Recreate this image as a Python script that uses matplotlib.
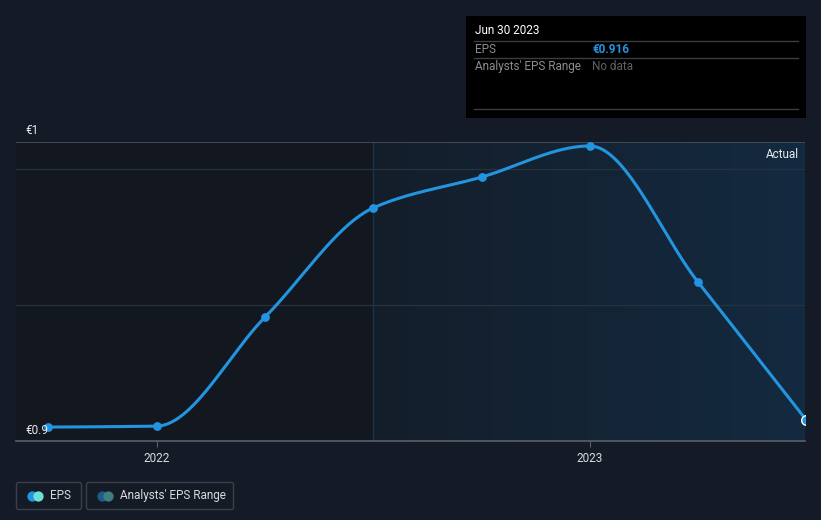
import matplotlib
matplotlib.use("Agg")
import matplotlib.pyplot as plt
import numpy as np
from matplotlib.colors import LinearSegmentedColormap
from matplotlib.patches import FancyBboxPatch

plt.rcParams["font.family"] = ["Roboto", "DejaVu Sans"]

# EPS history (quarter ends, decimal years) and values in EUR
quarters = ["Sep 2021", "Dec 2021", "Mar 2022", "Jun 2022",
            "Sep 2022", "Dec 2022", "Mar 2023", "Jun 2023"]
q_years = [2021.75, 2022.0, 2022.25, 2022.5, 2022.75, 2023.0, 2023.25, 2023.5]
eps = [0.9139, 0.9142, 0.9471, 0.9801, 0.9894, 0.9988, 0.9577, 0.916]

year_ticks = [2022, 2023]
year_labels = ["2022", "2023"]
forecast_start = 2022.5

BG = "#151b26"
LINE = "#2394df"


def monotone_curve(x, y, n=40):
    # monotone cubic (Fritsch-Carlson), like d3's curveMonotoneX
    x = np.asarray(x, float)
    y = np.asarray(y, float)
    h = np.diff(x)
    d = np.diff(y) / h
    m = np.zeros_like(y)
    m[0], m[-1] = d[0], d[-1]
    for i in range(1, len(y) - 1):
        if d[i - 1] * d[i] <= 0:
            m[i] = 0
        else:
            m[i] = (3 * (h[i - 1] + h[i])) / ((2 * h[i] + h[i - 1]) / d[i - 1] + (h[i] + 2 * h[i - 1]) / d[i])
    xs, ys = [], []
    for i in range(len(h)):
        t = np.linspace(0, 1, n)
        h00 = 2 * t**3 - 3 * t**2 + 1
        h10 = t**3 - 2 * t**2 + t
        h01 = -2 * t**3 + 3 * t**2
        h11 = t**3 - t**2
        xs.append(x[i] + t * h[i])
        ys.append(h00 * y[i] + h10 * h[i] * m[i] + h01 * y[i + 1] + h11 * h[i] * m[i + 1])
    return np.concatenate(xs), np.concatenate(ys)


fig = plt.figure(figsize=(8.21, 5.2), dpi=100, facecolor=BG)
ax = fig.add_axes([16 / 821, 79 / 520, 789 / 821, 299 / 520])
ax.set_facecolor("#131820")

x0, x1 = 2021.675, 2023.497
y0, y1 = 0.9097, 1.0
ax.set_xlim(x0, x1)
ax.set_ylim(y0, y1)

# shaded "actual" region after the divider, gradient to the right
grad = LinearSegmentedColormap.from_list("g", ["#141e2a", "#132a40"])
ax.imshow(np.linspace(0, 1, 256).reshape(1, -1), cmap=grad, aspect="auto",
          extent=[forecast_start, x1, y0, y1], zorder=0, interpolation="bilinear")
ax.axvline(forecast_start, color="#1c3249", lw=1, zorder=1)

for gy in [0.9918, 0.9508]:
    ax.axhline(gy, color="#273240", lw=0.9, zorder=1)
ax.axhline(y1, color="#4a5260", lw=1.2, zorder=1)

cx, cy = monotone_curve(q_years, eps)
ax.plot(cx, cy, color=LINE, lw=2.2, zorder=3, solid_capstyle="round")
ax.scatter(q_years[:-1], eps[:-1], s=40, color=LINE, zorder=4, lw=0)
ax.scatter(q_years[-1:], eps[-1:], s=48, color=LINE, edgecolor="white", lw=1, zorder=4)

for s in ["top", "left", "right"]:
    ax.spines[s].set_visible(False)
ax.spines["bottom"].set_color("#5a606a")
ax.spines["bottom"].set_linewidth(1.2)
ax.set_yticks([])
ax.set_xticks(year_ticks)
ax.set_xticklabels(year_labels, color="#d8dadd", fontsize=8.5)
ax.tick_params(axis="x", length=4, color="#5a606a", pad=4)

ax.text(0.993, 0.958, "Actual", transform=ax.transAxes, ha="right", va="center",
        color="#e8eaec", fontsize=8.5)

fig.text(25 / 821, 1 - 130 / 520, "€1", color="#e8eaec", fontsize=8.5, va="center")
fig.text(25 / 821, 1 - 430 / 520, "€0.9", color="#e8eaec", fontsize=8.5, va="center")

# tooltip box
tip = fig.add_axes([466 / 821, 1 - 118 / 520, 340 / 821, 102 / 520])
tip.set_xlim(466, 806)
tip.set_ylim(118, 16)
tip.set_facecolor("black")
tip.set_xticks([])
tip.set_yticks([])
for s in tip.spines.values():
    s.set_visible(False)
for ly in [41, 58, 109]:
    tip.plot([474, 798], [ly, ly], color="#3a3d42", lw=1)
tip.text(475, 31, "Jun 30 2023", color="white", fontsize=8.5, va="center")
tip.text(475, 49.5, "EPS", color="#8a8d92", fontsize=8.5, va="center")
tip.text(592, 49.5, "€0.916", color="#2394df", fontsize=8.5, va="center", fontweight="bold")
tip.text(475, 66.5, "Analysts' EPS Range", color="#8a8d92", fontsize=8.5, va="center")
tip.text(592, 66.5, "No data", color="#5e6166", fontsize=8.5, va="center")

# legend
leg = fig.add_axes([0, 0, 1, 1], facecolor="none")
leg.set_xlim(0, 821)
leg.set_ylim(520, 0)
leg.axis("off")
for (bx, bw) in [(16.5, 65), (86.5, 147)]:
    leg.add_patch(FancyBboxPatch((bx, 482.5), bw, 27, boxstyle="round,pad=0,rounding_size=2",
                                 fc="none", ec="#3a404a", lw=1))
leg.scatter([32], [495.5], s=55, color="#2394df", lw=0)
leg.scatter([38], [495.5], s=55, color="#6ee0d8", lw=0)
leg.text(50, 495.5, "EPS", color="#d8dadd", fontsize=8.5, va="center")
leg.scatter([102], [495.5], s=55, color="#1f5a8a", lw=0)
leg.scatter([108], [495.5], s=55, color="#3f7e7e", lw=0)
leg.text(120, 495.5, "Analysts' EPS Range", color="#d8dadd", fontsize=8.5, va="center")

fig.savefig("out.png", dpi=100, facecolor=BG)
